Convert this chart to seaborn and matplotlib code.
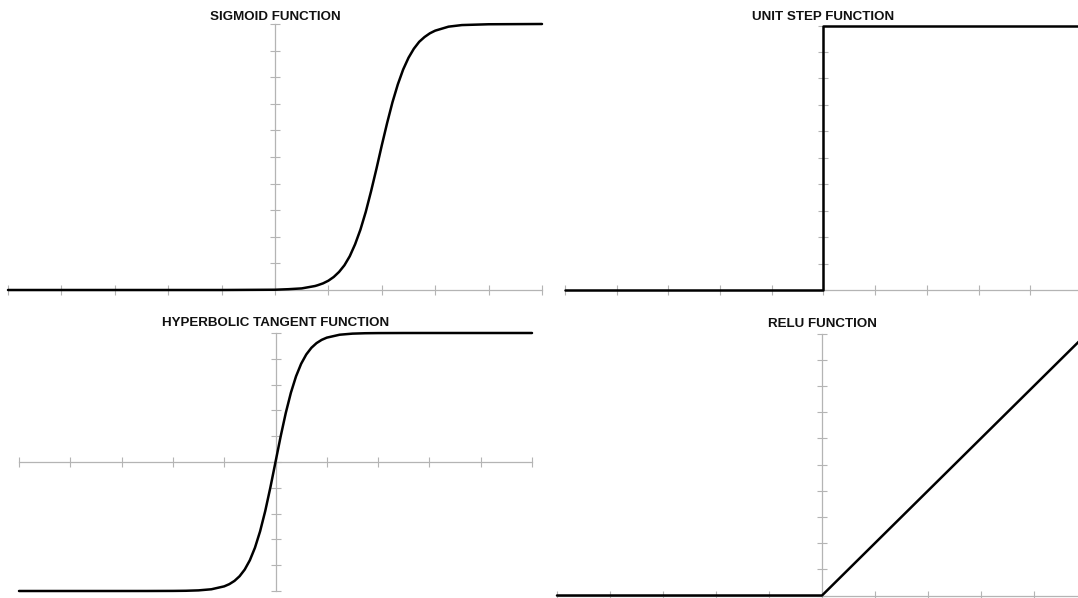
#!/usr/bin/env python3

import matplotlib
matplotlib.use("Agg")
import matplotlib.pyplot as plt
import numpy as np
import seaborn as sns

sns.set_style("white")
plt.rcParams['font.family'] = ['Liberation Sans', 'DejaVu Sans']

# values
sigmoid_x = [-5, -4, -3, -2, -1, 0, 0.25, 0.5, 0.75, 0.8, 0.9, 1.0, 1.1, 1.2, 1.3, 1.4, 1.5,
             1.6, 1.7, 1.8, 1.9, 2.0, 2.1, 2.2, 2.3, 2.4, 2.5, 2.6, 2.7, 2.8, 2.9, 3.0,
             3.25, 3.5, 4.0, 5.0]
sigmoid_y = [0.0, 0.0, 0.0, 0.0, 0.0, 0.001, 0.003, 0.006, 0.015, 0.018, 0.025, 0.035, 0.049,
             0.068, 0.093, 0.127, 0.172, 0.227, 0.294, 0.372, 0.456, 0.544, 0.628, 0.706,
             0.773, 0.829, 0.873, 0.907, 0.933, 0.951, 0.965, 0.975, 0.990, 0.996, 0.999, 1.0]

step_x = [-5, 0, 0, 5]
step_y = [0, 0, 1, 1]

tanh_x = [-5, -3, -2.5, -2, -1.75, -1.5, -1.25, -1.0, -0.9, -0.8, -0.7, -0.6, -0.5, -0.4, -0.3,
          -0.2, -0.1, 0, 0.1, 0.2, 0.3, 0.4, 0.5, 0.6, 0.7, 0.8, 0.9, 1.0, 1.25, 1.5, 1.75,
          2, 2.5, 3, 5]
tanh_y = [-1.0, -1.0, -0.9999, -0.9993, -0.9982, -0.9951, -0.9866, -0.964, -0.9468, -0.9217,
          -0.8854, -0.8337, -0.7616, -0.664, -0.537, -0.3799, -0.1974, 0.0, 0.1974, 0.3799,
          0.537, 0.664, 0.7616, 0.8337, 0.8854, 0.9217, 0.9468, 0.964, 0.9866, 0.9951,
          0.9982, 0.9993, 0.9999, 1.0, 1.0]

relu_x = [-5, 0, 5]
relu_y = [0, 0, 5]

W, H = 1078, 598
fig = plt.figure(figsize=(W / 100, H / 100), dpi=100)
fig.patch.set_facecolor('white')

AXIS_GREY = '#b4b4b4'


def make_ax(left, right, top, bottom):
    # pixel box -> figure fraction
    return fig.add_axes([left / W, 1 - bottom / H, (right - left) / W, (bottom - top) / H])


def style_axes(ax, xlim, ylim, yticks, title, pad):
    ax.set_xlim(*xlim)
    ax.set_ylim(*ylim)
    ax.set_facecolor('none')
    for side in ['top', 'right']:
        ax.spines[side].set_visible(False)
    ax.spines['left'].set_position(('data', 0))
    ax.spines['bottom'].set_position(('data', 0))
    for side in ['left', 'bottom']:
        ax.spines[side].set_color(AXIS_GREY)
        ax.spines[side].set_linewidth(0.9)
    ax.set_xticks(np.arange(-5, 6, 1))
    ax.set_yticks(yticks)
    ax.tick_params(direction='inout', length=6.5, width=0.8, colors=AXIS_GREY,
                   labelbottom=False, labelleft=False, bottom=True, left=True)
    ax.grid(False)
    ax.set_xlabel(None)
    ax.set_ylabel(None)
    ax.set_title(title, fontsize=9.6, fontweight='bold', color='#111111', pad=pad)


def plot_curve(ax, x, y):
    sns.lineplot(x=x, y=y, ax=ax, color='black', linewidth=1.8, sort=False, estimator=None)
    for line in ax.lines:
        line.set_clip_on(False)
        line.set_zorder(5)


ax1 = make_ax(8, 542, 24, 290)
plot_curve(ax1, sigmoid_x, sigmoid_y)
style_axes(ax1, (-5, 5), (0, 1), np.linspace(0, 1, 11), "SIGMOID FUNCTION", 3.0)

ax2 = make_ax(565, 1082, 25.5, 290)
plot_curve(ax2, step_x, step_y)
style_axes(ax2, (-5, 5), (0, 1), np.linspace(0, 1, 11), "UNIT STEP FUNCTION", 3.6)

ax3 = make_ax(19, 532, 333, 591)
plot_curve(ax3, tanh_x, tanh_y)
style_axes(ax3, (-5, 5), (-1, 1), np.linspace(-1, 1, 11), "HYPERBOLIC TANGENT FUNCTION", 5.0)

ax4 = make_ax(557, 1087, 333.5, 595.5)
plot_curve(ax4, relu_x, relu_y)
style_axes(ax4, (-5, 5), (0, 5), np.linspace(0, 5, 11), "RELU FUNCTION", 5.0)

plt.savefig("out.png", dpi=100, facecolor='white')
